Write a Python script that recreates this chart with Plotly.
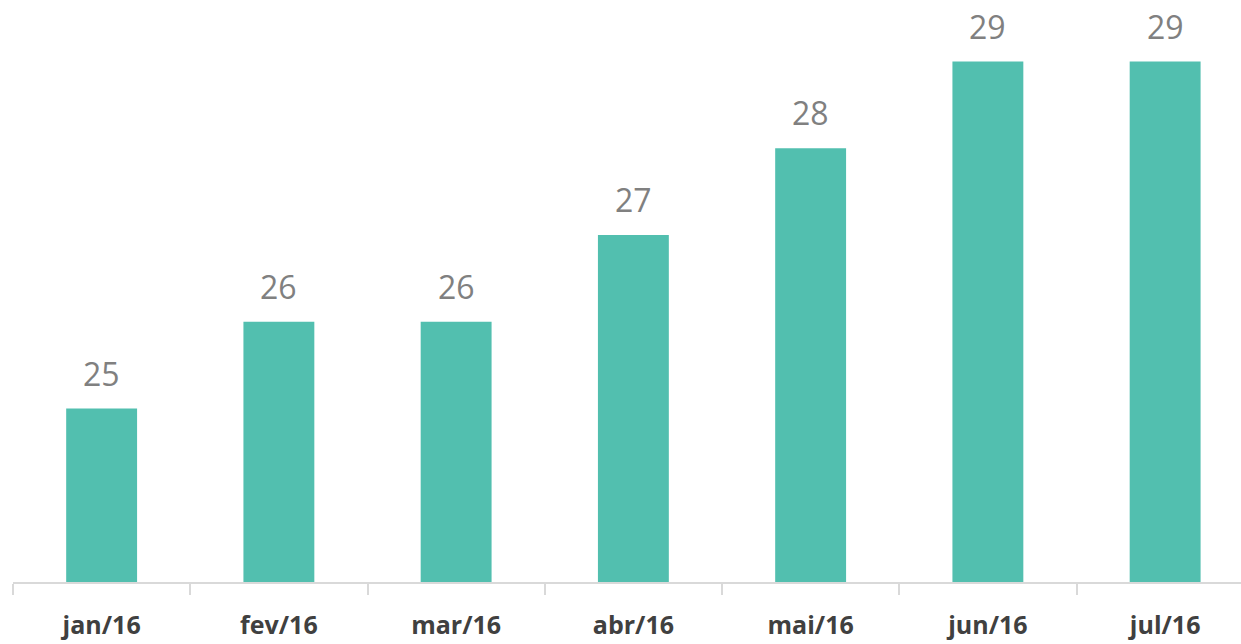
import plotly.graph_objects as go

categories = ["jan/16", "fev/16", "mar/16", "abr/16", "mai/16", "jun/16", "jul/16"]
values = [25, 26, 26, 27, 28, 29, 29]

fig = go.Figure(go.Bar(
    x=categories, y=values,
    marker=dict(color="#52BFAF", line=dict(width=0)),
    cliponaxis=False,
    hoverinfo="x+y",
))

for c, v in zip(categories, values):
    fig.add_annotation(
        x=c, y=v, text=str(v), showarrow=False,
        yanchor="bottom", yshift=12,
        font=dict(family="Open Sans", size=32, color="#808080"),
    )

fig.update_layout(
    width=1241, height=644,
    margin=dict(l=13, r=0, t=0, b=62),
    paper_bgcolor="white", plot_bgcolor="white",
    bargap=0.6,
    showlegend=False,
    xaxis=dict(
        type="category",
        range=[-0.5, 6.428],
        showline=True, linecolor="#d9d9d9", linewidth=2,
        ticks="outside", tickson="boundaries", ticklen=11, tickwidth=2, tickcolor="#d9d9d9",
        tickfont=dict(family="Open Sans", size=25, color="#404040", weight="bold"),
        ticklabelstandoff=20,
        showgrid=False, zeroline=False,
    ),
    yaxis=dict(
        range=[23, 29.709],
        visible=False, showgrid=False, zeroline=False,
    ),
)

fig.write_html(
    "out.html",
    config={"displayModeBar": False},
    post_script="document.body.style.margin='0';document.body.style.overflow='hidden';",
)
